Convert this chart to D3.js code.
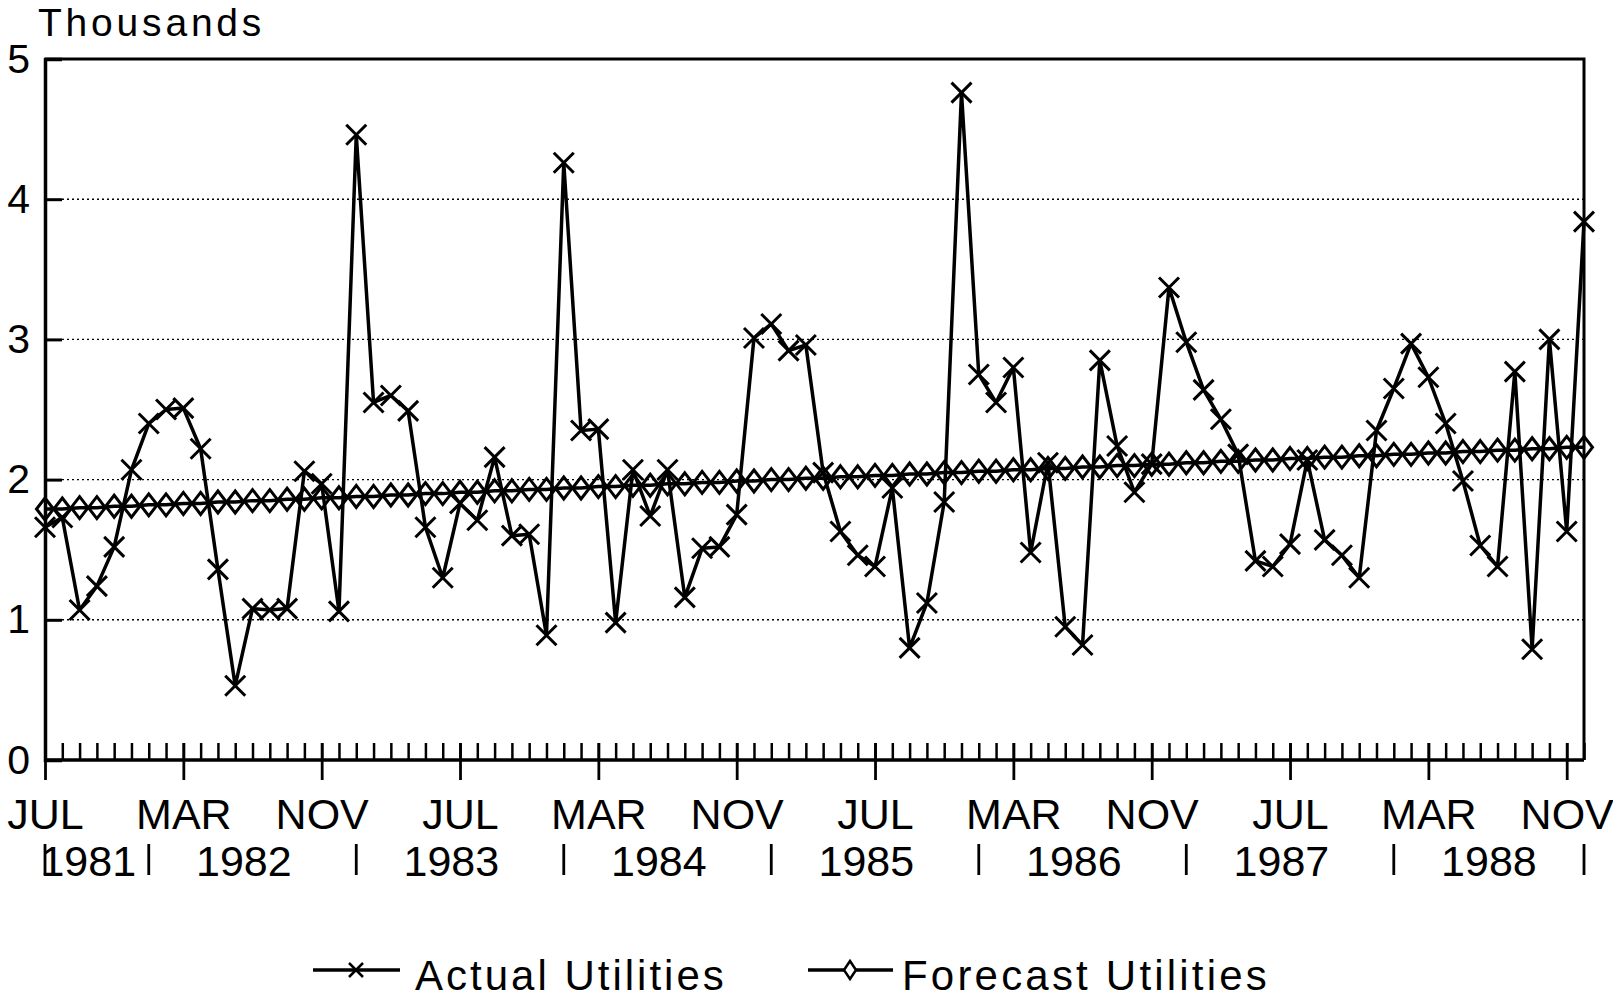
<!DOCTYPE html>
<html>
<head>
<meta charset="utf-8">
<script src="https://cdn.jsdelivr.net/npm/d3@7"></script>
<style>
  body { margin: 0; background: #fff; }
  svg { display: block; }
  text { font-family: "Liberation Sans", Arial, Helvetica, sans-serif; fill: #000; }
</style>
</head>
<body>
<div id="chart"></div>
<script>
// monthly values, Jul 1981 .. Dec 1988 (thousands)
const actual = [
  1.66, 1.73, 1.07, 1.24, 1.52, 2.07,
  2.40, 2.50, 2.51, 2.22, 1.36, 0.53, 1.08, 1.07, 1.08, 2.06, 1.97, 1.06,
  4.46, 2.55, 2.60, 2.49, 1.66, 1.30, 1.83, 1.71, 2.16, 1.60, 1.61, 0.89,
  4.26, 2.35, 2.36, 0.98, 2.07, 1.74, 2.07, 1.16, 1.51, 1.52, 1.75, 3.01,
  3.11, 2.92, 2.96, 2.05, 1.63, 1.46, 1.38, 1.94, 0.80, 1.12, 1.84, 4.76,
  2.75, 2.55, 2.80, 1.48, 2.12, 0.95, 0.82, 2.85, 2.24, 1.91, 2.11, 3.37,
  2.98, 2.64, 2.43, 2.18, 1.42, 1.38, 1.54, 2.14, 1.57, 1.46, 1.30, 2.35,
  2.65, 2.97, 2.73, 2.40, 1.99, 1.53, 1.38, 2.77, 0.79, 3.00, 1.63, 3.84
];
const forecast = [
  1.79, 1.79, 1.80, 1.80, 1.81, 1.81,
  1.82, 1.82, 1.83, 1.83, 1.84, 1.84, 1.85, 1.85, 1.86, 1.86, 1.87, 1.87,
  1.88, 1.88, 1.89, 1.89, 1.90, 1.90, 1.91, 1.91, 1.92, 1.92, 1.93, 1.93,
  1.94, 1.94, 1.95, 1.95, 1.96, 1.96, 1.97, 1.97, 1.98, 1.98, 1.99, 1.99,
  2.00, 2.00, 2.01, 2.01, 2.02, 2.02, 2.03, 2.03, 2.04, 2.04, 2.05, 2.05,
  2.06, 2.06, 2.07, 2.07, 2.08, 2.08, 2.09, 2.09, 2.10, 2.10, 2.11, 2.11,
  2.12, 2.12, 2.13, 2.13, 2.14, 2.14, 2.15, 2.15, 2.16, 2.16, 2.17, 2.17,
  2.18, 2.18, 2.19, 2.19, 2.20, 2.20, 2.21, 2.21, 2.22, 2.22, 2.23, 2.23
];
const monthLabels = ['JUL', 'MAR', 'NOV', 'JUL', 'MAR', 'NOV', 'JUL', 'MAR', 'NOV', 'JUL', 'MAR', 'NOV'];
const monthLabelIdx = [0, 8, 16, 24, 32, 40, 48, 56, 64, 72, 80, 88];
const yearLabels = ['1981', '1982', '1983', '1984', '1985', '1986', '1987', '1988'];
const yearStart = [0, 6, 18, 30, 42, 54, 66, 78];
const yearEnd = [5, 17, 29, 41, 53, 65, 77, 89];
const yearSep = [0, 6, 18, 30, 42, 54, 66, 78, 89];
const yTicks = [0, 1, 2, 3, 4, 5];

const width = 1613, height = 1000;
const svg = d3.select('#chart').append('svg')
    .attr('width', width)
    .attr('height', height);

const x = d3.scaleLinear().domain([0, 89]).range([45, 1584]);
const y = d3.scaleLinear().domain([0, 5]).range([760, 59]);
const months = d3.range(actual.length);

// dotted grid
svg.append('g')
    .selectAll('line')
    .data(yTicks.filter(d => d > 0 && d < 5))
    .join('line')
    .attr('x1', x(0) + 17).attr('x2', x(89))
    .attr('y1', d => y(d)).attr('y2', d => y(d))
    .attr('stroke', '#000')
    .attr('stroke-width', 1.4)
    .attr('stroke-dasharray', '2,3');

// frame (top + right)
svg.append('path')
    .attr('d', `M${x(0)},${y(5)}H${x(89)}V${y(0)}`)
    .attr('fill', 'none')
    .attr('stroke', '#000')
    .attr('stroke-width', 3);

// y axis
const yAxis = svg.append('g')
    .attr('transform', `translate(${x(0)},0)`)
    .call(d3.axisLeft(y).tickValues(yTicks).tickSize(-17).tickPadding(15).tickFormat(d3.format('d')));
yAxis.select('.domain').attr('stroke-width', 3.5);
yAxis.selectAll('line').attr('stroke-width', 3);
yAxis.selectAll('text')
    .attr('font-size', 41)
    .attr('font-family', null)
    .attr('fill', '#000');

// x axis: minor ticks every month (up)
const xMinor = svg.append('g')
    .attr('transform', `translate(0,${y(0)})`)
    .call(d3.axisBottom(x).tickValues(months).tickSize(-17).tickFormat(''));
xMinor.select('.domain').attr('stroke-width', 3.5).attr('d', `M${x(0)},0H${x(89)}`);
xMinor.selectAll('line').attr('stroke-width', 2.5);

// major ticks (down) with month names
const xMajor = svg.append('g')
    .attr('transform', `translate(0,${y(0)})`)
    .call(d3.axisBottom(x).tickValues(monthLabelIdx).tickSize(20).tickPadding(18)
        .tickFormat((d, i) => monthLabels[i]));
xMajor.select('.domain').remove();
xMajor.selectAll('line').attr('stroke-width', 2.8).attr('y1', -17);
xMajor.selectAll('text')
    .attr('font-size', 43)
    .attr('font-family', null)
    .attr('fill', '#000');

// year labels and separators
svg.append('g')
    .selectAll('text')
    .data(yearLabels)
    .join('text')
    .attr('x', (d, i) => x((yearStart[i] + yearEnd[i]) / 2))
    .attr('y', 876)
    .attr('text-anchor', 'middle')
    .attr('font-size', 43)
    .text(d => d);

svg.append('g')
    .selectAll('line')
    .data(yearSep)
    .join('line')
    .attr('x1', d => x(d)).attr('x2', d => x(d))
    .attr('y1', 844).attr('y2', 875)
    .attr('stroke', '#000')
    .attr('stroke-width', 2.8);

// series
const line = (vals) => d3.line().x((d, i) => x(i)).y(d => y(d))(vals);

svg.append('path')
    .attr('d', line(forecast))
    .attr('fill', 'none')
    .attr('stroke', '#000')
    .attr('stroke-width', 3.5);

const diamond = (cx, cy, w, h) => `M${cx},${cy - h}L${cx + w},${cy}L${cx},${cy + h}L${cx - w},${cy}Z`;
const cross = (cx, cy, s) => `M${cx - s},${cy - s}L${cx + s},${cy + s}M${cx - s},${cy + s}L${cx + s},${cy - s}`;

svg.append('g')
    .selectAll('path')
    .data(forecast)
    .join('path')
    .attr('d', (d, i) => diamond(x(i), y(d), 8.5, 11))
    .attr('fill', 'none')
    .attr('stroke', '#000')
    .attr('stroke-width', 3);

svg.append('path')
    .attr('d', line(actual))
    .attr('fill', 'none')
    .attr('stroke', '#000')
    .attr('stroke-width', 3.5)
    .attr('stroke-linejoin', 'round');

svg.append('g')
    .selectAll('path')
    .data(actual)
    .join('path')
    .attr('d', (d, i) => cross(x(i), y(d), 10))
    .attr('stroke', '#000')
    .attr('stroke-width', 3);

// "Thousands"
svg.append('text')
    .attr('x', 38)
    .attr('y', 36)
    .attr('font-size', 39)
    .attr('letter-spacing', 3.8)
    .text('Thousands');

// legend
const legend = svg.append('g');
const legY = 970;
legend.append('line')
    .attr('x1', 313).attr('x2', 400).attr('y1', legY).attr('y2', legY)
    .attr('stroke', '#000').attr('stroke-width', 3.5);
legend.append('path')
    .attr('d', cross(356, legY, 7))
    .attr('stroke', '#000').attr('stroke-width', 2.5);
legend.append('text')
    .attr('x', 415).attr('y', 990)
    .attr('font-size', 42).attr('letter-spacing', 3)
    .text('Actual Utilities');

legend.append('line')
    .attr('x1', 808).attr('x2', 893).attr('y1', legY).attr('y2', legY)
    .attr('stroke', '#000').attr('stroke-width', 3.5);
legend.append('path')
    .attr('d', diamond(850, legY, 6, 9))
    .attr('fill', '#fff')
    .attr('stroke', '#000').attr('stroke-width', 2.5);
legend.append('text')
    .attr('x', 902).attr('y', 990)
    .attr('font-size', 42).attr('letter-spacing', 3.2)
    .text('Forecast Utilities');
</script>
</body>
</html>
